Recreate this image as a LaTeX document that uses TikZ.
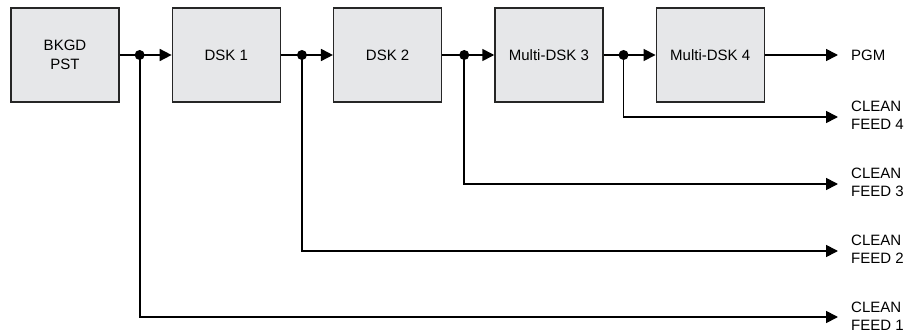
\documentclass[tikz,border=0pt]{standalone}
\usepackage{fontspec}
\setmainfont{Liberation Sans}
\usetikzlibrary{arrows.meta,calc,positioning}
\definecolor{boxgray}{RGB}{230,231,233}
\tikzset{stage/.style={
    draw=black!85,
    line width=1.3pt,
    fill=boxgray,
    minimum width=108pt,
    minimum height=94pt,
    align=center,
    inner sep=0pt
  },
  feed/.style={
    anchor=west,
    align=left,
    inner sep=0pt,
    font=\fontsize{15}{18}\selectfont
  },
  sig/.style={line width=1.7pt, -{Triangle[length=12pt,width=12pt]}},
  junction/.style={circle, fill=black, inner sep=0pt, minimum size=10pt}
}

\begin{document}
\begin{tikzpicture}[x=1pt, y=-1pt, font=\fontsize{15}{19}\selectfont, node distance=52pt]
    \useasboundingbox (0,0) rectangle (907,334);
    % processing chain
    \node[stage] (bkgd) at (65,55) {BKGD\\PST};
    \node[stage, right=of bkgd] (dsk1) {DSK 1};
    \node[stage, right=of dsk1] (dsk2) {DSK 2};
    \node[stage, right=of dsk2] (mdsk3) {Multi-DSK 3};
    \node[stage, right=of mdsk3] (mdsk4) {Multi-DSK 4};
    % outputs
    \node[feed] (pgm) at (851,55) {PGM};
    \node[feed] (cf4) at (851,115) {CLEAN\\FEED 4};
    \node[feed] (cf3) at (851,182) {CLEAN\\FEED 3};
    \node[feed] (cf2) at (851,249) {CLEAN\\FEED 2};
    \node[feed] (cf1) at (851,316) {CLEAN\\FEED 1};
    % split points
    \coordinate (j1) at ($(bkgd.east)+(20,0)$);
    \coordinate (j2) at ($(dsk1.east)+(21,0)$);
    \coordinate (j3) at ($(dsk2.east)+(22,0)$);
    \coordinate (j4) at ($(mdsk3.east)+(20,0)$);
    \draw[sig] (bkgd) -- (dsk1);
    \draw[sig] (dsk1) -- (dsk2);
    \draw[sig] (dsk2) -- (mdsk3);
    \draw[sig] (mdsk3) -- (mdsk4);
    \draw[sig] (mdsk4) -- ($(pgm.west)+(-13,0)$);
    \draw[sig] (j4) |- ($(cf4.west)+(-13,2)$);
    \draw[sig] (j3) |- ($(cf3.west)+(-13,2)$);
    \draw[sig] (j2) |- ($(cf2.west)+(-13,2)$);
    \draw[sig] (j1) |- ($(cf1.west)+(-13,1)$);
    \foreach \j in {j1,j2,j3,j4}
        \node[junction] at (\j) {};
\end{tikzpicture}
\end{document}
